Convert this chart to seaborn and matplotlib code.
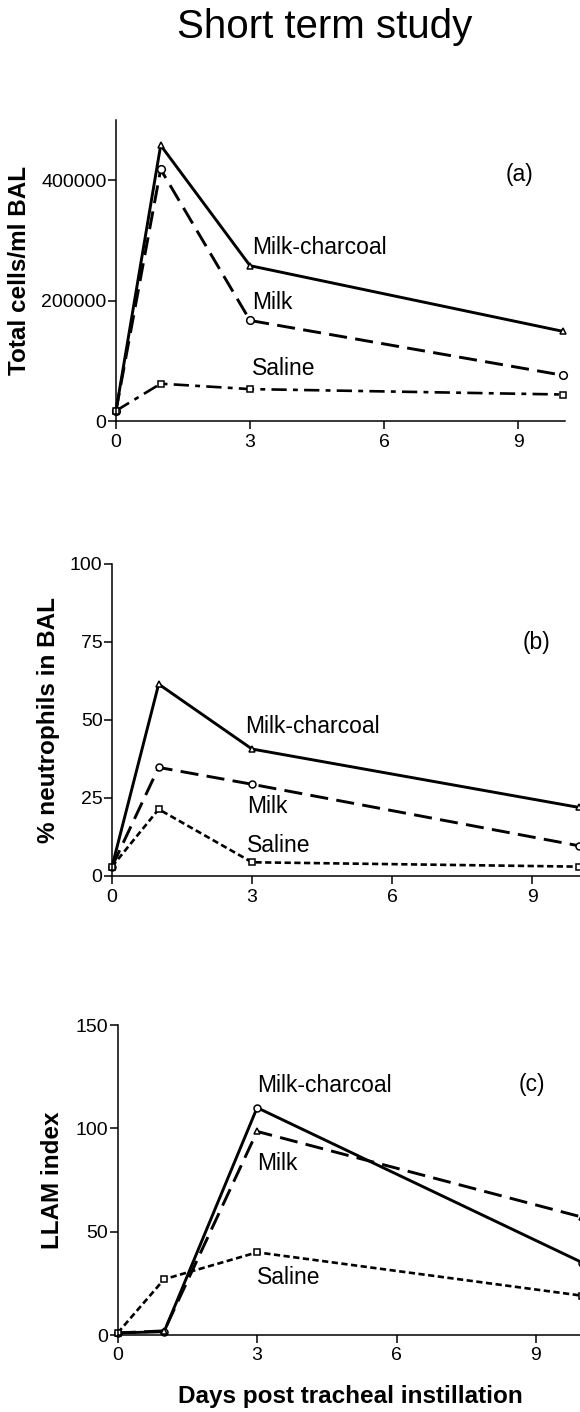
import matplotlib
matplotlib.use('Agg')
import matplotlib.pyplot as plt
import seaborn as sns
from matplotlib import font_manager

# Data
days = [0, 1, 3, 10]

# (a) total cells/ml BAL
a_milk_charcoal = [17000, 458000, 258000, 149000]
a_milk = [17000, 418000, 167000, 76000]
a_saline = [17000, 62000, 53000, 44000]

# (b) % neutrophils in BAL
b_milk_charcoal = [3, 61.5, 40.7, 22]
b_milk = [3, 34.8, 29.4, 9.7]
b_saline = [3, 21.4, 4.4, 3]

# (c) LLAM index
c_milk_charcoal = [1, 1.6, 110, 35]
c_milk = [1, 2, 98.5, 57]
c_saline = [1, 27, 40, 19]

x_ticks = [0, 3, 6, 9]
a_yticks = [0, 200000, 400000]
b_yticks = [0, 25, 50, 75, 100]
c_yticks = [0, 50, 100, 150]

sns.set_theme(style='ticks')
plt.rcParams['font.family'] = ['Liberation Sans', 'DejaVu Sans']
plt.rcParams['lines.scale_dashes'] = False
plt.rcParams['axes.linewidth'] = 1.1
plt.rcParams['axes.edgecolor'] = 'black'
plt.rcParams['text.color'] = 'black'

# tick labels in the original are a narrow face
installed = {f.name for f in font_manager.fontManager.ttflist}
if 'Liberation Sans Narrow' in installed:
    tick_family, tick_size = 'Liberation Sans Narrow', 16
else:
    tick_family, tick_size = 'Liberation Sans', 14

for a in ['xtick', 'ytick']:
    plt.rcParams[a + '.labelsize'] = tick_size
    plt.rcParams[a + '.color'] = 'black'
    plt.rcParams[a + '.labelcolor'] = 'black'
    plt.rcParams[a + '.major.size'] = 6
    plt.rcParams[a + '.major.width'] = 1.1
    plt.rcParams[a + '.direction'] = 'out'
plt.rcParams['xtick.major.pad'] = 3
plt.rcParams['ytick.major.pad'] = 0.8

SOLID = '-'
LONG_DASH = (0, (13, 6))
DASH_DOT = (0, (11, 4.5, 3.5, 4.5))
SHORT_DASH = (0, (4.5, 2.5))

fig = plt.figure(figsize=(5.8, 14.12), dpi=100)
W, H = 580.0, 1412.0


def add_panel(left, bottom_px, width_px, height_px):
    return fig.add_axes([left / W, 1 - bottom_px / H, width_px / W, height_px / H])


def draw(ax, values, ls, marker, lw=2.1, ms=5):
    sns.lineplot(x=days, y=values, ax=ax, color='black', linestyle=ls, linewidth=lw,
                 marker=marker, markersize=ms, markerfacecolor='white',
                 markeredgecolor='black', markeredgewidth=1.1, clip_on=False)


def style_axes(ax, xmax, ymax, yticks, ylabel, label_x):
    ax.set_xlim(0, xmax)
    ax.set_ylim(0, ymax)
    ax.set_xticks(x_ticks)
    ax.set_xticklabels([str(t) for t in x_ticks], family=tick_family, fontsize=tick_size)
    ax.set_yticks(yticks)
    ax.set_yticklabels([str(t) for t in yticks], family=tick_family, fontsize=tick_size)
    sns.despine(ax=ax)
    ax.set_ylabel(ylabel, fontsize=17.5, fontweight='bold', color='black')
    ax.yaxis.set_label_coords(label_x, 0.5)
    ax.set_xlabel('')


# Panel (a)
ax_a = add_panel(116, 421, 449, 301)
draw(ax_a, a_milk_charcoal, SOLID, '^')
draw(ax_a, a_milk, LONG_DASH, 'o', ms=5.5)
draw(ax_a, a_saline, DASH_DOT, 's', lw=1.9)
style_axes(ax_a, 10.05, 500000, a_yticks, 'Total cells/ml BAL', -0.19)
ax_a.text(3.04, 288000, 'Milk-charcoal', fontsize=16.5, va='center', ha='left')
ax_a.text(3.04, 197000, 'Milk', fontsize=16.5, va='center', ha='left')
ax_a.text(3.04, 88000, 'Saline', fontsize=16.5, va='center', ha='left')
ax_a.text(9.04, 410000, '(a)', fontsize=16.5, va='center', ha='center')

# Panel (b)
ax_b = add_panel(112, 876, 476, 312)
draw(ax_b, b_milk_charcoal, SOLID, '^')
draw(ax_b, b_milk, LONG_DASH, 'o')
draw(ax_b, b_saline, SHORT_DASH, 's', lw=1.9)
style_axes(ax_b, 10.2, 100, b_yticks, '% neutrophils in BAL', -0.11)
ax_b.text(2.85, 47.9, 'Milk-charcoal', fontsize=16.5, va='center', ha='left')
ax_b.text(2.9, 22.2, 'Milk', fontsize=16.5, va='center', ha='left')
ax_b.text(2.9, 9.9, 'Saline', fontsize=16.5, va='center', ha='left')
ax_b.text(9.1, 74.7, '(b)', fontsize=16.5, va='center', ha='center')

# Panel (c)
ax_c = add_panel(117.7, 1335, 474, 310)
draw(ax_c, c_milk_charcoal, SOLID, 'o')
draw(ax_c, c_milk, LONG_DASH, '^')
draw(ax_c, c_saline, SHORT_DASH, 's', lw=1.9)
style_axes(ax_c, 10.2, 150, c_yticks, 'LLAM index', -0.113)
ax_c.text(3.0, 120.5, 'Milk-charcoal', fontsize=16.5, va='center', ha='left')
ax_c.text(3.0, 83, 'Milk', fontsize=16.5, va='center', ha='left')
ax_c.text(3.0, 27.7, 'Saline', fontsize=16.5, va='center', ha='left')
ax_c.text(8.91, 121, '(c)', fontsize=16.5, va='center', ha='center')

fig.text(350 / W, 1 - 1403 / H, 'Days post tracheal instillation', fontsize=17.5,
         fontweight='bold', ha='center', va='baseline', color='black')
fig.text(324.5 / W, 1 - 38 / H, 'Short term study', fontsize=29,
         ha='center', va='baseline', color='black')

fig.savefig('out.png', dpi=100, facecolor='white')
